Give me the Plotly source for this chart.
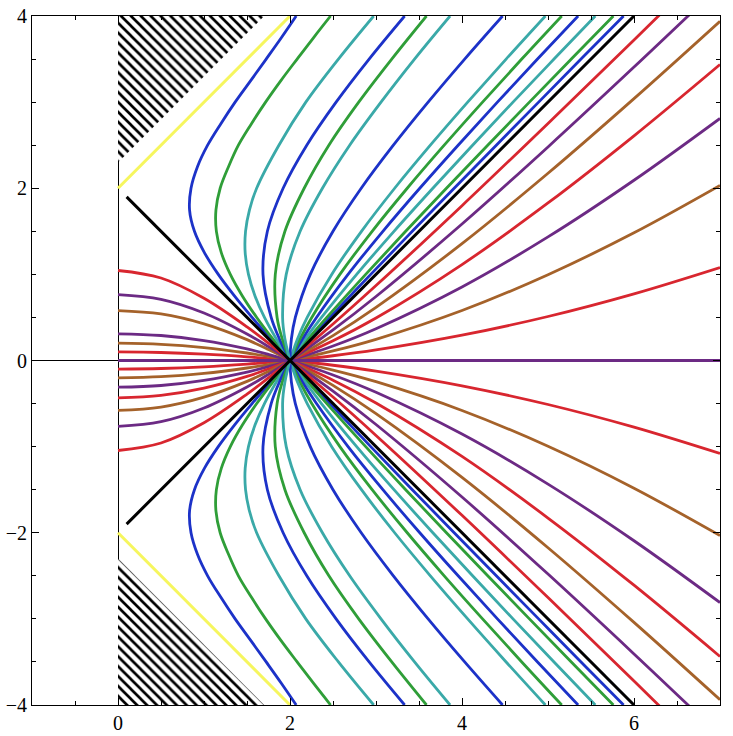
import plotly.graph_objects as go

# ---------------- colours ----------------
RED = "#d8262f"
PURPLE = "#6c2a84"
BROWN = "#a5622a"
BLUE = "#1c32c8"
GREEN = "#2f9e38"
TEAL = "#3aa9a8"
YELLOW = "#f6f65e"
BLACK = "#000000"

# ---------------- data ----------------
# "fan" curves, y as a function of x (upper-left branch -> lower-right branch)
fan_x = [0, 0.5, 1, 1.5, 1.75, 2, 2.5, 3, 4, 5, 6, 7]
fan_k1 = [0.099, 0.093, 0.074, 0.043, 0.023, 0, -0.055, -0.123, -0.294, -0.511, -0.774, -1.080]
fan_k2 = [0.201, 0.188, 0.150, 0.087, 0.047, 0, -0.111, -0.246, -0.580, -0.996, -1.483, -2.033]
fan_k3 = [0.310, 0.290, 0.231, 0.134, 0.071, 0, -0.168, -0.369, -0.854, -1.435, -2.093, -2.811]
fan_k4 = [0.434, 0.405, 0.321, 0.185, 0.098, 0, -0.228, -0.493, -1.114, -1.829, -2.609, -3.437]
fan_k5 = [0.579, 0.540, 0.425, 0.242, 0.127, 0, -0.289, -0.617, -1.357, -2.174, -3.041, -3.939]
fan_k6 = [0.766, 0.711, 0.552, 0.308, 0.161, 0, -0.355, -0.743, -1.585, -2.480, -3.407, -4.353]
fan_k7 = [1.045, 0.958, 0.723, 0.391, 0.201, 0, -0.424, -0.870, -1.798, -2.753, -3.722, -4.700]
fan_colors = [RED, BROWN, PURPLE, RED, BROWN, PURPLE, RED]
# the k4 curve has no upper-left part in the picture
fan_upper_left_drawn = [True, True, True, False, True, True, True]

axis_curve_x = [0, 7]
axis_curve_y = [0, 0]

# steep curves to the right of the node, x as a function of y (upper half)
steep_y = [0, 0.25, 0.5, 1, 1.5, 2, 2.5, 3, 3.5, 4]
steepR_1 = [2, 2.230, 2.464, 2.939, 3.422, 3.909, 4.399, 4.891, 5.384, 5.879]
steepR_2 = [2, 2.210, 2.428, 2.880, 3.345, 3.819, 4.299, 4.784, 5.271, 5.760]
steepR_3 = [2, 2.177, 2.366, 2.775, 3.209, 3.661, 4.123, 4.593, 5.070, 5.550]
steepR_4 = [2, 2.145, 2.308, 2.675, 3.080, 3.509, 3.955, 4.412, 4.878, 5.350]
steepR_5 = [2, 2.116, 2.253, 2.580, 2.955, 3.363, 3.793, 4.239, 4.695, 5.160]
steepR_6 = [2, 2.087, 2.200, 2.485, 2.831, 3.217, 3.632, 4.066, 4.513, 4.970]
steepR_0 = [2, 2.016, 2.062, 2.236, 2.500, 2.828, 3.202, 3.606, 4.031, 4.472]
steep_colors = [BLUE, GREEN, TEAL, BLUE, GREEN, TEAL]

# curves that bend back to the left of the node (upper half), x as function of y
turn_y_a = [0, 0.25, 0.5, 0.75, 1, 1.25, 1.5, 1.75, 2, 2.25, 2.5, 2.75, 3, 3.25, 3.5, 3.75, 4]
turn_1 = [2, 1.776, 1.559, 1.354, 1.166, 1.006, 0.889, 0.832, 0.849, 0.924, 1.042, 1.196, 1.362, 1.543, 1.723, 1.901, 2.072]
turn_2 = [2, 1.800, 1.613, 1.446, 1.306, 1.202, 1.144, 1.139, 1.188, 1.285, 1.400, 1.552, 1.716, 1.894, 2.083, 2.275, 2.472]
turn_y_b = [0, 0.25, 0.5, 0.75, 1, 1.25, 1.5, 1.75, 2, 2.5, 3, 3.5, 4]
turn_3 = [2, 1.841, 1.703, 1.593, 1.517, 1.479, 1.483, 1.529, 1.612, 1.871, 2.184, 2.563, 2.973]
turn_y_c = [0, 0.25, 0.5, 1, 1.5, 2, 2.5, 3, 3.5, 4]
turn_4 = [2, 1.877, 1.781, 1.686, 1.737, 1.920, 2.195, 2.536, 2.920, 3.333]
turn_5 = [2, 1.910, 1.850, 1.829, 1.941, 2.165, 2.452, 2.799, 3.183, 3.587]
turn_6 = [2, 1.941, 1.914, 1.956, 2.118, 2.377, 2.694, 3.058, 3.448, 3.861]

# straight guide lines
black_a_x = [0.1, 6.0]
black_a_y = [1.9, -4.0]
black_b_x = [0.1, 6.0]
black_b_y = [-1.9, 4.0]
yellow_a_x = [0, 2]
yellow_a_y = [2, 4]
yellow_b_x = [0, 2]
yellow_b_y = [-2, -4]

# hatched triangles
hatch_top_x = [0, 0, 1.7, 0]
hatch_top_y = [2.3, 4, 4, 2.3]
hatch_bot_x = [0, 0, 1.7, 0]
hatch_bot_y = [-2.3, -4, -4, -2.3]

LW = 2.8

fig = go.Figure()


def add_line(x, y, color, width=LW, shape="spline"):
    fig.add_trace(go.Scatter(x=x, y=y, mode="lines",
                             line=dict(color=color, width=width, shape=shape),
                             hoverinfo="skip", showlegend=False))


def neg(v):
    return [-a for a in v]


# hatching
for hx, hy in [(hatch_top_x, hatch_top_y), (hatch_bot_x, hatch_bot_y)]:
    fig.add_trace(go.Scatter(x=hx, y=hy, mode="none", fill="toself",
                             fillcolor="white",
                             fillpattern=dict(shape="\\", size=7, solidity=0.38,
                                              fgcolor="black", bgcolor="white",
                                              fgopacity=1, fillmode="replace"),
                             hoverinfo="skip", showlegend=False))

# fan curves
fans = [fan_k1, fan_k2, fan_k3, fan_k4, fan_k5, fan_k6, fan_k7]
for ys, col, full in zip(fans, fan_colors, fan_upper_left_drawn):
    if full:
        add_line(fan_x, ys, col)
    else:
        i0 = fan_x.index(2)
        add_line(fan_x[i0:], ys[i0:], col)
    add_line(fan_x, neg(ys), col)
add_line(axis_curve_x, axis_curve_y, PURPLE, shape="linear")

# steep curves on the right
for xs, col in zip([steepR_1, steepR_2, steepR_3, steepR_4, steepR_5, steepR_6], steep_colors):
    add_line(xs, steep_y, col)
    add_line(xs, neg(steep_y), col)
add_line(steepR_0[::-1] + steepR_0[1:], neg(steep_y[::-1]) + steep_y[1:], BLUE)

# curves turning back to the left
turns = [(turn_1, turn_y_a), (turn_2, turn_y_a), (turn_3, turn_y_b),
         (turn_4, turn_y_c), (turn_5, turn_y_c), (turn_6, turn_y_c)]
for (xs, ys), col in zip(turns, steep_colors):
    add_line(xs, ys, col)
    add_line(xs, neg(ys), col)

# guide lines
add_line(black_a_x, black_a_y, BLACK, width=3, shape="linear")
add_line(black_b_x, black_b_y, BLACK, width=3, shape="linear")
add_line(yellow_a_x, yellow_a_y, YELLOW, width=3, shape="linear")
add_line(yellow_b_x, yellow_b_y, YELLOW, width=3, shape="linear")

axis_common = dict(
    showgrid=False, ticks="inside", ticklen=7, tickwidth=1, tickcolor="black",
    showline=True, linecolor="black", linewidth=1, mirror="ticks",
    zeroline=True, zerolinecolor="black", zerolinewidth=1,
    automargin=False,
    tickfont=dict(family="Liberation Serif", size=20, color="black"),
    minor=dict(ticks="inside", ticklen=4, tickwidth=1, tickcolor="black", dtick=0.5, showgrid=False),
)

fig.update_layout(
    width=733, height=736,
    margin=dict(l=32, r=13, t=16, b=31, autoexpand=False),
    paper_bgcolor="white", plot_bgcolor="white",
    xaxis=dict(range=[-1, 7], tickvals=[0, 2, 4, 6], **axis_common),
    yaxis=dict(range=[-4, 4], tickvals=[-4, -2, 0, 2, 4], **axis_common),
    showlegend=False,
)

fig.write_html(
    "out.html",
    config={"displayModeBar": False},
    post_script="document.body.style.margin='0';document.body.style.overflow='hidden';",
)
